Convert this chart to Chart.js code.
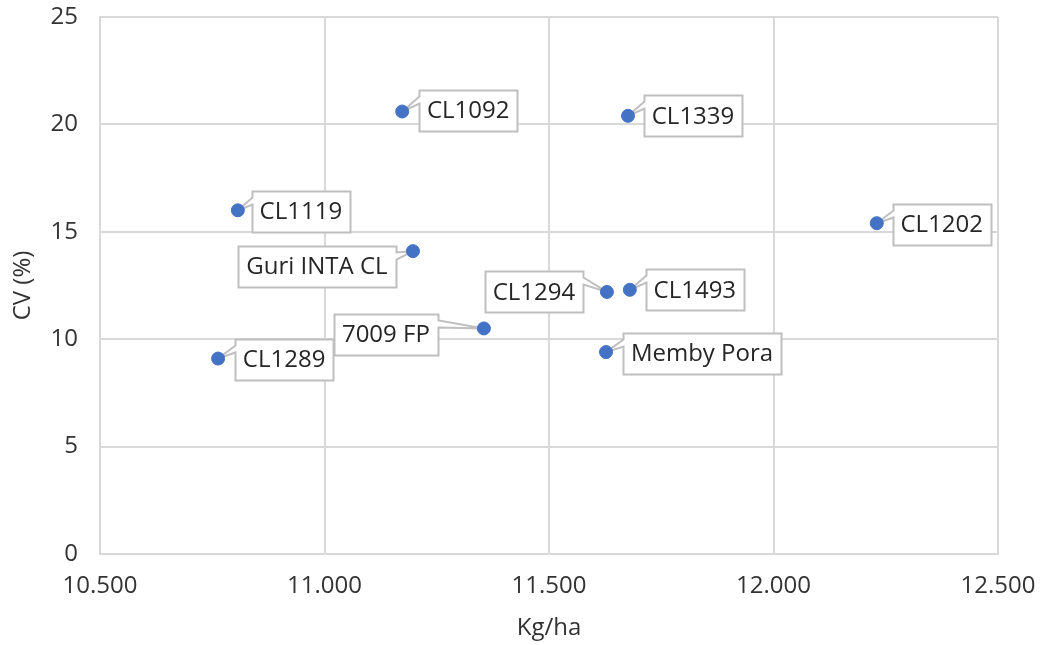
<!DOCTYPE html>
<html>
<head>
<meta charset="utf-8">
<title>CV vs rendimiento</title>
<script src="https://cdn.jsdelivr.net/npm/chart.js@4/dist/chart.umd.min.js"></script>
<style>
  html, body { margin: 0; padding: 0; background: #ffffff; }
  #wrap { width: 1051px; height: 645px; }
</style>
</head>
<body>
<div id="wrap"><canvas id="chart" width="1051" height="645"></canvas></div>
<script>
// Cultivares: rendimiento (Kg/ha) y coeficiente de variación (%)
const varieties = ['CL1092', 'CL1339', 'CL1119', 'CL1202', 'Guri INTA CL',
                   'CL1294', 'CL1493', '7009 FP', 'Memby Pora', 'CL1289'];
const yieldKgHa = [11173, 11676, 10807, 12230, 11197, 11629, 11680, 11355, 11627, 10763];
const cvPercent = [20.6, 20.4, 16.0, 15.4, 14.1, 12.2, 12.3, 10.5, 9.4, 9.1];

// Axis ranges and tick steps
const xRange = [10500, 12500, 500];
const yRange = [0, 25, 5];

// Callout box centre, offset in pixels from its point
const labelOffsets = [[66, -1], [65, 0], [63, 1], [65, 1], [-96, 15],
                      [-73, 0], [65, 0], [-98, 6], [96, 1], [66, 1]];

const FONT = '"Open Sans", "Liberation Sans", sans-serif';
const TEXT_SIZE = 24;

// Spanish-style thousands separator: 10500 -> 10.500
function miles(v) {
  return String(Math.round(v)).replace(/\B(?=(\d{3})+(?!\d))/g, '.');
}

// Draws each point's name in a white box with a wedge pointing at the point
const calloutPlugin = {
  id: 'callouts',
  beforeDatasetsDraw(chart) {
    const ctx = chart.ctx;
    const meta = chart.getDatasetMeta(0);
    ctx.save();
    ctx.font = TEXT_SIZE + 'px ' + FONT;
    meta.data.forEach((pt, i) => {
      const text = varieties[i];
      const [dx, dy] = labelOffsets[i];
      const tw = ctx.measureText(text).width;
      const w = tw + 16, h = 41;
      const cx = pt.x + dx, cy = pt.y + dy;
      const L = Math.round(cx - w / 2) + 0.5, R = Math.round(cx + w / 2) + 0.5;
      const T = Math.round(cy - h / 2) + 0.5, B = Math.round(cy + h / 2) + 0.5;
      const a1 = T + 6, a2 = T + 13;
      ctx.beginPath();
      if (dx > 0) {
        ctx.moveTo(L, T); ctx.lineTo(R, T); ctx.lineTo(R, B); ctx.lineTo(L, B);
        ctx.lineTo(L, a2); ctx.lineTo(pt.x, pt.y); ctx.lineTo(L, a1);
        ctx.closePath();
      } else {
        ctx.moveTo(L, T); ctx.lineTo(R, T); ctx.lineTo(R, a1);
        ctx.lineTo(pt.x, pt.y); ctx.lineTo(R, a2); ctx.lineTo(R, B);
        ctx.lineTo(L, B); ctx.closePath();
      }
      ctx.fillStyle = '#ffffff';
      ctx.fill();
      ctx.lineWidth = 2;
      ctx.strokeStyle = '#bfbfbf';
      ctx.lineJoin = 'miter';
      ctx.stroke();
      ctx.fillStyle = '#262626';
      ctx.textAlign = 'center';
      ctx.textBaseline = 'middle';
      ctx.fillText(text, cx, cy + 1);
    });
    ctx.restore();
  }
};

const points = yieldKgHa.map((x, i) => ({ x: x, y: cvPercent[i] }));

new Chart(document.getElementById('chart'), {
  type: 'scatter',
  data: {
    datasets: [{
      label: 'CV',
      data: points,
      pointRadius: 6.5,
      pointHoverRadius: 6.5,
      backgroundColor: '#4472C4',
      borderColor: '#4472C4',
      borderWidth: 1
    }]
  },
  options: {
    responsive: false,
    animation: false,
    devicePixelRatio: 1,
    layout: { padding: { top: 17, right: 53, bottom: 0, left: 0 } },
    plugins: {
      legend: { display: false },
      tooltip: { enabled: false }
    },
    scales: {
      x: {
        type: 'linear',
        min: xRange[0], max: xRange[1],
        afterFit(s) { s.height = 91; s.paddingLeft = 0; s.paddingRight = 0; },
        ticks: {
          stepSize: xRange[2],
          padding: 18,
          color: '#333333',
          font: { family: FONT, size: TEXT_SIZE },
          maxRotation: 0,
          callback: (v) => miles(v)
        },
        grid: { color: '#d9d9d9', lineWidth: 2, drawTicks: false },
        border: { color: '#d9d9d9', width: 2 },
        title: {
          display: true, text: 'Kg/ha', color: '#333333',
          font: { family: FONT, size: TEXT_SIZE },
          padding: { top: 2, bottom: 2 }
        }
      },
      y: {
        type: 'linear',
        min: yRange[0], max: yRange[1],
        afterFit(s) { s.width = 100; s.paddingTop = 0; s.paddingBottom = 0; },
        ticks: {
          stepSize: yRange[2],
          padding: 22,
          color: '#333333',
          font: { family: FONT, size: TEXT_SIZE }
        },
        grid: { color: '#d9d9d9', lineWidth: 2, drawTicks: false },
        border: { color: '#d9d9d9', width: 2 },
        title: {
          display: true, text: 'CV (%)', color: '#333333',
          font: { family: FONT, size: TEXT_SIZE },
          padding: { top: 9, bottom: 4 }
        }
      }
    }
  },
  plugins: [calloutPlugin]
});
</script>
</body>
</html>
